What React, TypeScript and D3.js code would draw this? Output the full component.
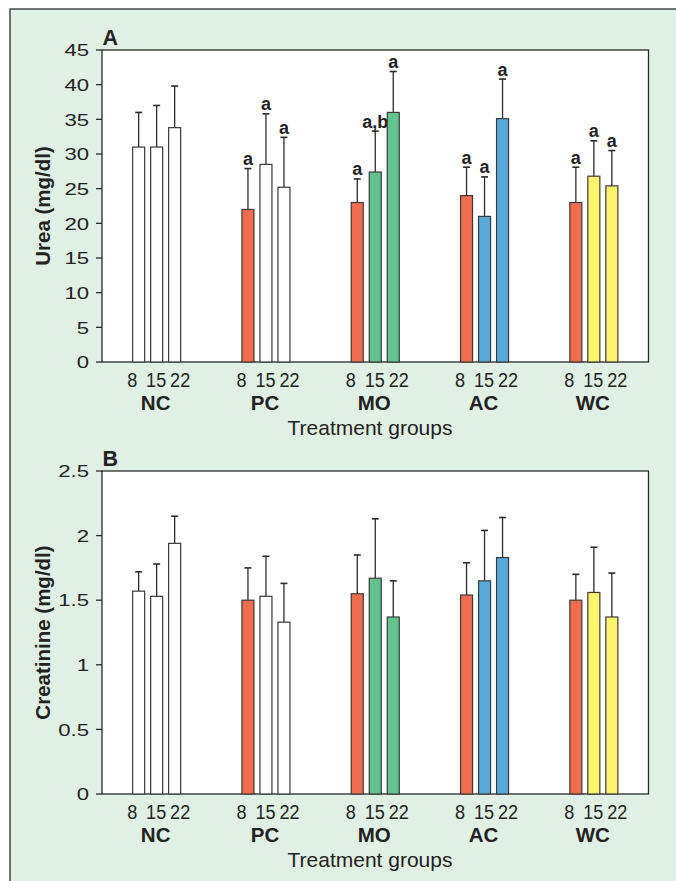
import React from 'react';
import * as d3 from 'd3';

// treatment groups and sampling days
const groups = ['NC', 'PC', 'MO', 'AC', 'WC'];
const days = ['8', '15', '22'];

// panel A: urea (mg/dl), mean and SD per group per day
const ureaMean = [
  [31, 31, 33.8],
  [22, 28.5, 25.2],
  [23, 27.4, 36],
  [24, 21, 35.1],
  [23, 26.8, 25.4],
];
const ureaErr = [
  [5, 6, 6],
  [5.9, 7.3, 7.2],
  [3.4, 5.9, 5.9],
  [4.1, 5.7, 5.7],
  [5.1, 5.1, 5.1],
];
const ureaLetters = [
  ['', '', ''],
  ['a', 'a', 'a'],
  ['a', 'a,b', 'a'],
  ['a', 'a', 'a'],
  ['a', 'a', 'a'],
];
const ureaTicks = [0, 5, 10, 15, 20, 25, 30, 35, 40, 45];

// panel B: creatinine (mg/dl)
const creatMean = [
  [1.57, 1.53, 1.94],
  [1.5, 1.53, 1.33],
  [1.55, 1.67, 1.37],
  [1.54, 1.65, 1.83],
  [1.5, 1.56, 1.37],
];
const creatErr = [
  [0.15, 0.25, 0.21],
  [0.25, 0.31, 0.3],
  [0.3, 0.46, 0.28],
  [0.25, 0.39, 0.31],
  [0.2, 0.35, 0.34],
];
const creatTicks = [0, 0.5, 1, 1.5, 2, 2.5];

const RED = '#f26d50';
const barColors = [
  ['#ffffff', '#ffffff', '#ffffff'],
  [RED, '#ffffff', '#ffffff'],
  [RED, '#64c28c', '#64c28c'],
  [RED, '#5aa8dc', '#5aa8dc'],
  [RED, '#fff46b', '#fff46b'],
];

const FONT = '"Liberation Sans", Arial, Helvetica, sans-serif';
const INK = '#2b2b2b';
const LEFT = 102;
const RIGHT = 648.5;

const x0 = d3.scaleBand<string>().domain(groups).range([LEFT, RIGHT]);
const x1 = d3.scalePoint<string>().domain(days).range([-18, 18]);
const xLab = d3.scalePoint<string>().domain(days).range([-24.5, 23.5]);
const BAR_W = 12;

type PanelProps = {
  title: string;
  yLabel: string;
  top: number;
  bottom: number;
  yMax: number;
  ticks: number[];
  means: number[][];
  errs: number[][];
  letters?: string[][];
};

const Panel = ({ title, yLabel, top, bottom, yMax, ticks, means, errs, letters }: PanelProps) => {
  const y = d3.scaleLinear().domain([0, yMax]).range([bottom, top]);
  const fmt = (v: number) => String(v);
  const bars = means.flatMap((row, gi) =>
    row.map((v, di) => ({ gi, di, v, e: errs[gi][di] }))
  );

  return (
    <g>
      <rect x={LEFT} y={top} width={RIGHT - LEFT} height={bottom - top} fill="#fff" stroke={INK} strokeWidth={1.3} />

      {/* y axis ticks */}
      {ticks.map(t => (
        <g key={t}>
          <line x1={LEFT - 6} x2={LEFT} y1={y(t)} y2={y(t)} stroke={INK} strokeWidth={1.3} />
          <g transform={`translate(${LEFT - 13},${y(t)}) scale(1.28,1)`}>
            <text textAnchor="end" dy="0.36em" fontSize={17.3} fontFamily={FONT} fill="#222">{fmt(t)}</text>
          </g>
        </g>
      ))}

      {/* bars + error bars */}
      {bars.map(d => {
        const cx = x0(groups[d.gi])! + x0.bandwidth() / 2 + x1(days[d.di])!;
        const yTop = y(d.v + d.e);
        return (
          <g key={`${d.gi}-${d.di}`}>
            <line x1={cx} x2={cx} y1={y(d.v)} y2={yTop} stroke={INK} strokeWidth={1.3} />
            <line x1={cx - 3.5} x2={cx + 3.5} y1={yTop} y2={yTop} stroke={INK} strokeWidth={1.6} />
            <rect x={cx - BAR_W / 2} y={y(d.v)} width={BAR_W} height={bottom - y(d.v)}
              fill={barColors[d.gi][d.di]} stroke="#3a3a3a" strokeWidth={1.2} />
            {letters && letters[d.gi][d.di] && (
              <text x={cx} y={yTop - 3.5} textAnchor="middle" fontSize={18} fontWeight="bold" fontFamily={FONT} fill="#222">
                {letters[d.gi][d.di]}
              </text>
            )}
          </g>
        );
      })}

      {/* x labels */}
      {groups.map(g => {
        const gc = x0(g)! + x0.bandwidth() / 2;
        return (
          <g key={g}>
            {days.map(dd => (
              <g key={dd} transform={`translate(${gc + xLab(dd)!},${bottom + 24.5}) scale(0.86,1)`}>
                <text textAnchor="middle" fontSize={21} fontFamily={FONT} fill="#222">{dd}</text>
              </g>
            ))}
            <text x={gc - 1} y={bottom + 47.5} textAnchor="middle" fontSize={20.5} fontWeight="bold" fontFamily={FONT} fill="#222">{g}</text>
          </g>
        );
      })}
      <text x={370} y={bottom + 72.5} textAnchor="middle" fontSize={21} fontFamily={FONT} fill="#222">Treatment groups</text>

      {/* titles */}
      <text x={LEFT + 0.5} y={top - 5} fontSize={21.5} fontWeight="bold" fontFamily={FONT} fill="#222">{title}</text>
      <text transform={`translate(42.5,${(top + bottom) / 2}) rotate(-90)`} textAnchor="middle" dy="0.35em"
        fontSize={20.5} fontWeight="bold" fontFamily={FONT} fill="#222">{yLabel}</text>
    </g>
  );
};

export default function App() {
  return (
    <svg width={676} height={881} style={{ position: 'absolute', left: 0, top: 0 }}>
      <rect x={0} y={0} width={676} height={881} fill="#fff" />
      <rect x={10} y={9} width={720} height={920} fill="#e1f0e5" stroke={INK} strokeWidth={1.3} />
      <Panel title="A" yLabel="Urea (mg/dl)" top={50} bottom={362} yMax={45} ticks={ureaTicks}
        means={ureaMean} errs={ureaErr} letters={ureaLetters} />
      <Panel title="B" yLabel="Creatinine (mg/dl)" top={471} bottom={794} yMax={2.5} ticks={creatTicks}
        means={creatMean} errs={creatErr} />
    </svg>
  );
}
